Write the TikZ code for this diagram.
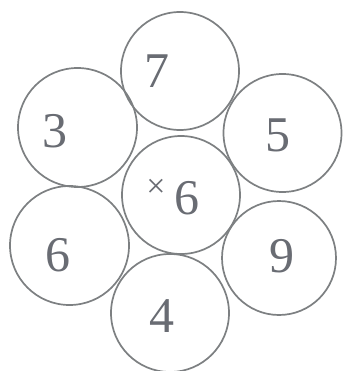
\documentclass[tikz,border=0pt]{standalone}
\usepackage{fontspec}
\setmainfont{Liberation Serif}
\definecolor{ringgray}{RGB}{125,128,130}
\definecolor{txtgray}{RGB}{105,108,115}
\begin{document}
\begin{tikzpicture}[x=1pt,y=-1pt,
  ring/.style={circle,draw=ringgray,line width=1.7pt,minimum size=#1,inner sep=0pt},
  ring/.default=118pt,
  num/.style={text=txtgray,font=\fontsize{50}{50}\selectfont,inner sep=0pt}]
\useasboundingbox (0,0) rectangle (343,371);
\fill[white] (0,0) rectangle (343,371);
\node[ring] (c7) at (180,71) {};
\node[ring=119pt] (c3) at (77.5,127.5) {};
\node[ring] (c5) at (282.5,133) {};
\node[ring] (cc) at (181,195) {};
\node[ring=119pt] (c6) at (69.5,245.5) {};
\node[ring=114pt] (c9) at (279,258) {};
\node[ring] (c4) at (170,313) {};
\node[num] (t7) at (157,71) {7};
\node[num] (t3) at (55,131) {3};
\node[num] (t5) at (278,135) {5};
\node[num] (tc) at (187,198) {6};
\node[text=txtgray,font=\fontsize{34}{34}\selectfont,inner sep=0pt] (tx) at (156,188) {×};
\node[num] (t6) at (58,255) {6};
\node[num] (t9) at (282,256) {9};
\node[num] (t4) at (162,316) {4};
\end{tikzpicture}
\end{document}
